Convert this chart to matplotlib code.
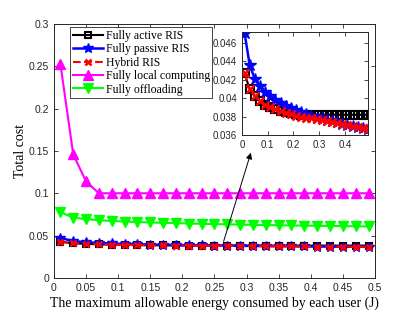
import matplotlib

matplotlib.use("Agg")
import matplotlib.pyplot as plt

# x: maximum allowable energy per user (J)
energy = [0.01, 0.03, 0.05, 0.07, 0.09, 0.11, 0.13, 0.15, 0.17, 0.19, 0.21, 0.23, 0.25,
          0.27, 0.29, 0.31, 0.33, 0.35, 0.37, 0.39, 0.41, 0.43, 0.45, 0.47, 0.49]

active = [0.0427, 0.0410, 0.0402, 0.0397, 0.0393, 0.0390, 0.0388, 0.0386, 0.0385, 0.0384,
          0.0383, 0.0382, 0.0382, 0.0382, 0.0382, 0.0382, 0.0382, 0.0382, 0.0382, 0.0382,
          0.0382, 0.0382, 0.0382, 0.0382, 0.0382]
passive = [0.0471, 0.0436, 0.0421, 0.0413, 0.0407, 0.0402, 0.0398, 0.0395, 0.0392, 0.0389,
           0.0387, 0.0385, 0.0383, 0.0381, 0.0379, 0.0378, 0.0376, 0.0375, 0.0374, 0.0372,
           0.0371, 0.0370, 0.0369, 0.0368, 0.0367]
hybrid = [0.0427, 0.0410, 0.0402, 0.0397, 0.0393, 0.0390, 0.0388, 0.0386, 0.0384, 0.0383,
          0.0381, 0.0380, 0.0379, 0.0378, 0.0377, 0.0376, 0.0375, 0.0374, 0.0373, 0.0372,
          0.0371, 0.0370, 0.0369, 0.0368, 0.0367]
local = [0.253, 0.146, 0.114, 0.100, 0.100, 0.100, 0.100, 0.100, 0.100, 0.100,
         0.100, 0.100, 0.100, 0.100, 0.100, 0.100, 0.100, 0.100, 0.100, 0.100,
         0.100, 0.100, 0.100, 0.100, 0.100]
offload = [0.0778, 0.0712, 0.0695, 0.0682, 0.0673, 0.0666, 0.0660, 0.0655, 0.0651, 0.0647,
           0.0643, 0.0639, 0.0636, 0.0633, 0.0630, 0.0627, 0.0624, 0.0622, 0.0620, 0.0618,
           0.0616, 0.0614, 0.0612, 0.0610, 0.0608]

labels = ["Fully active RIS", "Fully passive RIS", "Hybrid RIS",
          "Fully local computing", "Fully offloading"]

x_ticks = [0, 0.05, 0.1, 0.15, 0.2, 0.25, 0.3, 0.35, 0.4, 0.45, 0.5]
x_tick_labels = ["0", "0.05", "0.1", "0.15", "0.2", "0.25", "0.3", "0.35", "0.4", "0.45", "0.5"]
y_ticks = [0, 0.05, 0.1, 0.15, 0.2, 0.25, 0.3]
y_tick_labels = ["0", "0.05", "0.1", "0.15", "0.2", "0.25", "0.3"]
inset_x_ticks = [0, 0.1, 0.2, 0.3, 0.4]
inset_x_labels = ["0", "0.1", "0.2", "0.3", "0.4"]
inset_y_ticks = [0.036, 0.038, 0.04, 0.042, 0.044, 0.046]
inset_y_labels = ["0.036", "0.038", "0.04", "0.042", "0.044", "0.046"]

SERIF = ["Liberation Serif", "DejaVu Serif"]
SANS = ["Liberation Sans", "DejaVu Sans"]
EDGE = "#262626"


def draw_series(ax, ms_scale=1.0):
    ax.plot(energy, active, color="black", lw=1.5, marker="s", ms=4.5 * ms_scale,
            mfc="none", mec="black", mew=1.5, label=labels[0])
    ax.plot(energy, passive, color="blue", lw=1.8, marker="*", ms=7.5 * ms_scale,
            mfc="blue", mec="blue", label=labels[1])
    ax.plot(energy, hybrid, color="red", lw=1.5, ls="--", marker="x", ms=4.5 * ms_scale,
            mec="red", mew=1.8, label=labels[2])


def style_axes(ax, size):
    ax.tick_params(direction="in", top=True, right=True, labelsize=size,
                   length=3, width=0.6, colors=EDGE)
    for lab in ax.get_xticklabels() + ax.get_yticklabels():
        lab.set_family(SANS)
    for spine in ax.spines.values():
        spine.set_edgecolor(EDGE)
        spine.set_linewidth(0.7)


fig = plt.figure(figsize=(4.15, 3.13), dpi=100)
ax = fig.add_axes([0.130, 0.112, 0.7735, 0.8115])

draw_series(ax)
ax.plot(energy, local, color="magenta", lw=1.5, marker="^", ms=6.5, mfc="magenta",
        mec="magenta", label=labels[3])
ax.plot(energy, offload, color="#00ff00", lw=1.5, marker="v", ms=6.5, mfc="#00ff00",
        mec="#00ff00", label=labels[4])

ax.set_xlim(0, 0.5)
ax.set_ylim(0, 0.3)
ax.set_xticks(x_ticks)
ax.set_xticklabels(x_tick_labels)
ax.set_yticks(y_ticks)
ax.set_yticklabels(y_tick_labels)
style_axes(ax, 7.5)
ax.set_xlabel("The maximum allowable energy consumed by each user (J)",
              family=SERIF, fontsize=9.9, labelpad=3)
ax.set_ylabel("Total cost", family=SERIF, fontsize=10, labelpad=1)

leg = ax.legend(loc="upper left", bbox_to_anchor=(0.04, 1.0), prop={"family": SERIF, "size": 8.5},
                frameon=True, fancybox=False, edgecolor=EDGE, framealpha=1,
                handlelength=2.6, handletextpad=0.2, labelspacing=0.12, borderpad=0.2,
                borderaxespad=0.3)
leg.get_frame().set_linewidth(0.6)

ax.annotate("", xy=(0.308, 0.151), xytext=(0.263, 0.040),
            arrowprops=dict(arrowstyle="-|>", color="black", lw=0.7,
                            mutation_scale=9))

ins = fig.add_axes([0.5831, 0.5687, 0.3036, 0.329])
draw_series(ins, ms_scale=1.2)
ins.set_xlim(0, 0.49)
ins.set_ylim(0.036, 0.0472)
ins.set_xticks(inset_x_ticks)
ins.set_xticklabels(inset_x_labels)
ins.set_yticks(inset_y_ticks)
ins.set_yticklabels(inset_y_labels)
style_axes(ins, 7)

fig.savefig("out.png", dpi=100)
